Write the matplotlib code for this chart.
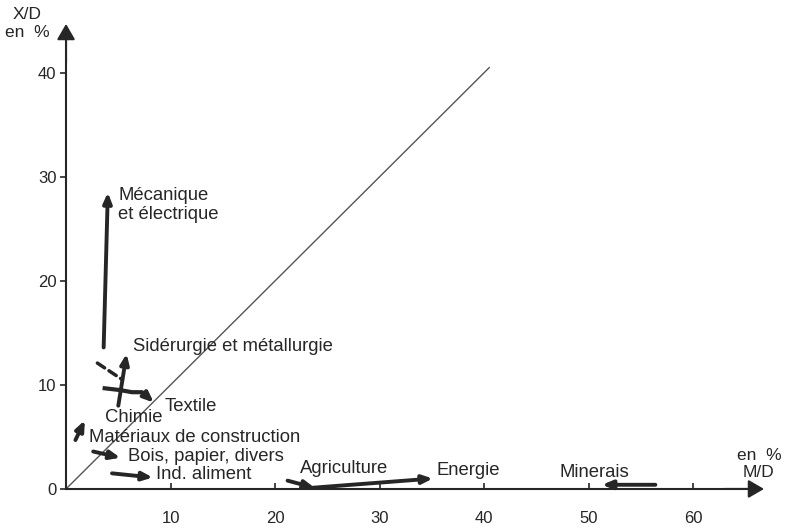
import matplotlib.pyplot as plt

plt.rcParams['font.family'] = ['Liberation Sans', 'DejaVu Sans']

# M/D and X/D in %, start and end of each sector's move
sectors = ['Mécanique\net électrique', 'Sidérurgie et métallurgie', 'Chimie',
           'Matériaux de construction', 'Bois, papier, divers', 'Ind. aliment',
           'Agriculture', 'Energie', 'Minerais']
md_start = [3.6, 5.0, 3.0, 0.9, 2.6, 4.4, 21.2, 23.4, 56.4]
xd_start = [13.6, 8.0, 12.1, 4.7, 3.6, 1.5, 0.8, 0.1, 0.4]
md_end = [4.0, 5.8, 5.4, 1.8, 5.2, 8.3, 23.8, 35.1, 51.3]
xd_end = [28.5, 13.0, 10.5, 6.6, 3.0, 1.1, 0.1, 1.0, 0.4]

# textile follows a bent path
textile_md = [3.5, 5.2, 6.3, 7.3, 8.4]
textile_xd = [9.7, 9.5, 9.3, 9.3, 8.3]

diag = [0, 40.5]
x_ticks = [10, 20, 30, 40, 50, 60]
y_ticks = [0, 10, 20, 30, 40]

# label anchors (left edge, vertical centre)
label_pos = [(5.0, 27.3), (6.4, 13.65), (3.75, 6.85), (2.2, 4.9), (5.95, 3.15),
             (8.6, 1.35), (22.4, 2.0), (35.5, 1.8), (47.2, 1.6)]
textile_label = (9.4, 7.9)

ink = '#262626'
fs = 13.3

fig = plt.figure(figsize=(7.86, 5.29), dpi=100)
ax = fig.add_axes([0, 0, 1, 1])
ax.set_xlim(-6.32, 68.9)
ax.set_ylim(-3.85, 47.0)

for s in ['top', 'right']:
    ax.spines[s].set_visible(False)
ax.spines['left'].set_position(('data', 0))
ax.spines['bottom'].set_position(('data', 0))
ax.spines['left'].set_bounds(0, 43.5)
ax.spines['bottom'].set_bounds(0, 65.5)
for s in ['left', 'bottom']:
    ax.spines[s].set_linewidth(1.5)
    ax.spines[s].set_color(ink)

# arrow heads on the axes
head = '-|>,head_length=0.95,head_width=0.55'
ax.annotate('', xy=(66.8, 0), xytext=(63, 0),
            arrowprops=dict(arrowstyle=head, color=ink, lw=1.5, shrinkA=0, shrinkB=0))
ax.annotate('', xy=(0, 44.7), xytext=(0, 41),
            arrowprops=dict(arrowstyle=head, color=ink, lw=1.5, shrinkA=0, shrinkB=0))

ax.set_xticks(x_ticks)
ax.set_yticks(y_ticks)
ax.tick_params(axis='x', direction='in', length=4, width=1.2, pad=16,
               labelsize=12, colors=ink)
ax.tick_params(axis='y', direction='out', length=4, width=1.2, pad=3,
               labelsize=12, colors=ink)

ax.plot(diag, diag, color='#555555', lw=1.0)

small = '-|>,head_length=0.6,head_width=0.25'
for i, name in enumerate(sectors):
    if name == 'Chimie':
        ax.annotate('', xy=(md_end[i], xd_end[i]), xytext=(md_start[i], xd_start[i]),
                    arrowprops=dict(arrowstyle='-', color=ink, lw=2.5, ls=(0, (2.5, 1.5)),
                                    shrinkA=0, shrinkB=0))
    else:
        ax.annotate('', xy=(md_end[i], xd_end[i]), xytext=(md_start[i], xd_start[i]),
                    arrowprops=dict(arrowstyle=small, color=ink, lw=2.8,
                                    shrinkA=0, shrinkB=0))
    lx, ly = label_pos[i]
    ax.text(lx, ly, name, fontsize=fs, color=ink, ha='left', va='center',
            linespacing=1.1)

ax.plot(textile_md[:-1], textile_xd[:-1], color=ink, lw=3.0, solid_capstyle='butt')
ax.annotate('', xy=(textile_md[-1], textile_xd[-1]), xytext=(textile_md[-2], textile_xd[-2]),
            arrowprops=dict(arrowstyle=small, color=ink, lw=2.8, shrinkA=0, shrinkB=0))
ax.text(textile_label[0], textile_label[1], 'Textile', fontsize=fs, color=ink,
        ha='left', va='center')

ax.text(-3.7, 44.7, 'X/D\nen  %', fontsize=12.5, color=ink, ha='center', va='center',
        linespacing=1.25)
ax.text(66.3, 2.4, 'en  %\nM/D', fontsize=12.5, color=ink, ha='center', va='center',
        linespacing=1.15, clip_on=False)

fig.savefig('out.png', dpi=100)
